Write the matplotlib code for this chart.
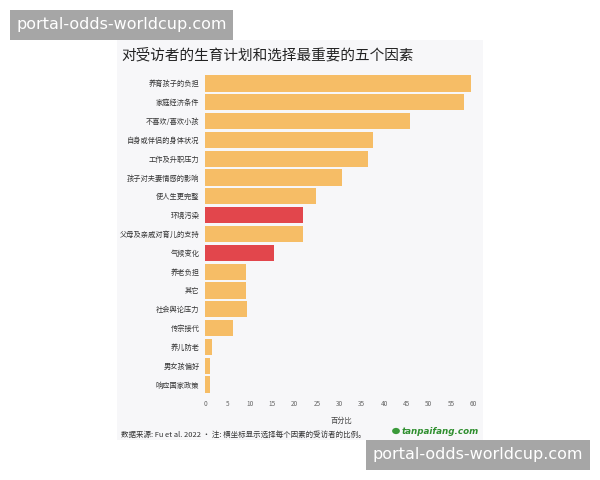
import matplotlib
matplotlib.use("Agg")
import matplotlib.pyplot as plt
from matplotlib.patches import Rectangle, Circle

plt.rcParams['font.family'] = ['Noto Sans CJK SC', 'DejaVu Sans']

categories = ["养育孩子的负担", "家庭经济条件", "不喜欢/喜欢小孩", "自身或伴侣的身体状况",
              "工作及升职压力", "孩子对夫妻情感的影响", "使人生更完整", "环境污染",
              "父母及亲戚对育儿的支持", "气候变化", "养老负担", "其它", "社会舆论压力",
              "传宗接代", "养儿防老", "男女孩偏好", "响应国家政策"]
values = [59.5, 57.8, 45.8, 37.6, 36.5, 30.6, 24.9, 22.0, 22.0, 15.4,
          9.2, 9.2, 9.3, 6.3, 1.6, 1.1, 1.2]
highlight = ["环境污染", "气候变化"]
xticks = [0, 5, 10, 15, 20, 25, 30, 35, 40, 45, 50, 55, 60]

W, H = 600, 480
fig = plt.figure(figsize=(6, 4.8), dpi=100)
fig.patch.set_facecolor("white")

def fx(px):
    return px / W

def fy(py):
    return 1 - py / H

# panel background
fig.patches.append(Rectangle((fx(117), fy(440)), fx(483) - fx(117), fy(40) - fy(440),
                             transform=fig.transFigure, facecolor="#f7f7f9",
                             edgecolor="none", zorder=-10))

ax_left, ax_right = 205, 478
ax_top, ax_bot = 74, 394
ax = fig.add_axes([fx(ax_left), fy(ax_bot), fx(ax_right) - fx(ax_left), fy(ax_top) - fy(ax_bot)])
ax.set_facecolor("none")
ax.set_zorder(1)

colors = ["#e2464c" if c in highlight else "#f6bd66" for c in categories]
ypos = list(range(len(categories)))
ax.barh(ypos, values, height=0.86, color=colors, edgecolor="none", zorder=2)
ax.set_ylim(len(categories) - 0.5, -0.5)
ax.set_xlim(0, 61)
ax.set_yticks(ypos)
ax.set_yticklabels(categories, fontsize=5.2, color="#333333")
ax.set_xticks(xticks)
ax.set_xticklabels([str(t) for t in xticks], fontsize=4.6, color="#666666")
ax.tick_params(axis="both", length=0, pad=4)
for s in ax.spines.values():
    s.set_visible(False)
ax.set_xlabel("百分比", fontsize=5.2, color="#444444", labelpad=7)

fig.text(fx(121), fy(55), "对受访者的生育计划和选择最重要的五个因素", fontsize=10.5,
         color="#222222", va="center", ha="left")
fig.text(fx(121), fy(435), "数据来源: Fu et al. 2022 • 注: 横坐标显示选择每个因素的受访者的比例。",
         fontsize=5.4, color="#333333", va="center", ha="left")

# logo
fig.patches.append(Circle((fx(396), fy(431)), 0.0065, transform=fig.transFigure,
                          facecolor="#3a9a3a", edgecolor="none", zorder=3))
fig.text(fx(402), fy(431), "tanpaifang.com", fontsize=6.3, color="#2f8f2f",
         fontweight="bold", fontstyle="italic", family="DejaVu Sans", va="center", ha="left")

# watermark boxes
for (x0, y0, x1, y1) in [(10, 10, 233, 40), (366, 440, 590, 470)]:
    fig.patches.append(Rectangle((fx(x0), fy(y1)), fx(x1) - fx(x0), fy(y0) - fy(y1),
                                 transform=fig.transFigure, facecolor="#a6a6a6",
                                 edgecolor="none", zorder=5))
    fig.text(fx((x0 + x1) / 2), fy((y0 + y1) / 2), "portal-odds-worldcup.com",
             fontsize=11.5, color="white", family="DejaVu Sans",
             va="center", ha="center", zorder=6)

fig.savefig("out.png", dpi=100)
